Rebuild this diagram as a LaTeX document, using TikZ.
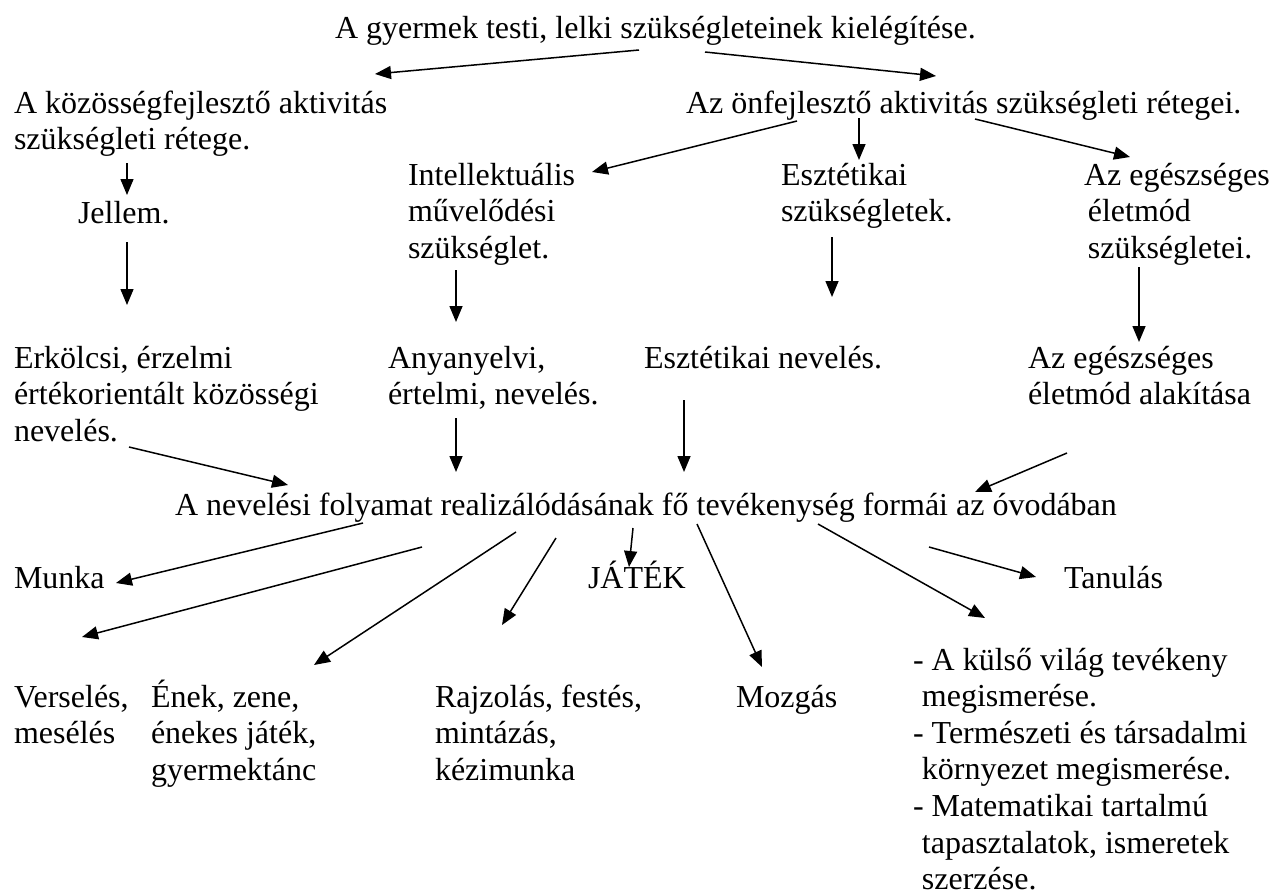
\documentclass[tikz,border=0pt]{standalone}
\usepackage{fontspec}
\setmainfont{Liberation Serif}
\usetikzlibrary{arrows.meta}
\begin{document}
\begin{tikzpicture}[x=1pt,y=-1pt,
  txt/.style={font=\fontsize{32}{36.6}\selectfont, inner sep=0pt, outer sep=0pt, align=left, anchor=base west},
  arr/.style={line width=1.5pt, -{Triangle[length=16pt,width=13pt]}}]
\useasboundingbox[fill=white] (0,0) rectangle (1281,891);
% nodes (anchor = baseline of the LAST line)
\node[txt] (title) at (335,38) {A gyermek testi, lelki szükségleteinek kielégítése.};
\node[txt] (kozos) at (14,149.6) {A közösségfejlesztő aktivitás\\szükségleti rétege.};
\node[txt] (onfejl) at (686,113) {Az önfejlesztő aktivitás szükségleti rétegei.};
\node[txt] (jellem) at (78,223) {Jellem.};
\node[txt] (intel) at (408,258.2) {Intellektuális\\művelődési\\szükséglet.};
\node[txt] (eszt) at (781,221.6) {Esztétikai\\szükségletek.};
\node[txt] (egesz) at (1084,258.2) {Az egészséges\\\hspace*{0.12em}életmód\\\hspace*{0.12em}szükségletei.};
\node[txt] (erkolcs) at (14,441.2) {Erkölcsi, érzelmi\\értékorientált közösségi\\nevelés.};
\node[txt] (anya) at (388,404.6) {Anyanyelvi,\\értelmi, nevelés.};
\node[txt] (esztnev) at (644,368) {Esztétikai nevelés.};
\node[txt] (egeszalak) at (1028,404.6) {Az egészséges\\életmód alakítása};
\node[txt] (main) at (175,515) {A nevelési folyamat realizálódásának fő tevékenység formái az óvodában};
\node[txt] (munka) at (14,588) {Munka};
\node[txt] (jatek) at (588,588) {JÁTÉK};
\node[txt] (tanulas) at (1064,588) {Tanulás};
\node[txt] (verseles) at (14,743.6) {Verselés,\\mesélés};
\node[txt] (enek) at (151,780.2) {Ének, zene,\\énekes játék,\\gyermektánc};
\node[txt] (rajz) at (435,780.2) {Rajzolás, festés,\\mintázás,\\kézimunka};
\node[txt] (mozgas) at (736,707) {Mozgás};
\node[txt] (kulso) at (913,889.6) {- A külső világ tevékeny\\\hspace*{0.28em}megismerése.\\- Természeti és társadalmi\\\hspace*{0.28em}környezet megismerése.\\- Matematikai tartalmú\\\hspace*{0.28em}tapasztalatok, ismeretek\\\hspace*{0.28em}szerzése.};
% connector ends
\coordinate (t1) at (639,50);   \coordinate (h1) at (375,74);
\coordinate (t2) at (705,52);   \coordinate (h2) at (936,76);
\coordinate (t3) at (127,163);  \coordinate (h3) at (127,195);
\coordinate (t4) at (127,242);  \coordinate (h4) at (127,305);
\coordinate (t5) at (797,121);  \coordinate (h5) at (592,172);
\coordinate (t6) at (859,118);  \coordinate (h6) at (859,160);
\coordinate (t7) at (975,119);  \coordinate (h7) at (1130,157);
\coordinate (t8) at (456,270);  \coordinate (h8) at (456,322);
\coordinate (t9) at (832,237);  \coordinate (h9) at (832,297);
\coordinate (t10) at (1139,267); \coordinate (h10) at (1139,342);
\coordinate (t11) at (129,447); \coordinate (h11) at (288,485);
\coordinate (t12) at (456,418); \coordinate (h12) at (456,472);
\coordinate (t13) at (684,400); \coordinate (h13) at (684,472);
\coordinate (t14) at (1067,453); \coordinate (h14) at (975,492);
\coordinate (t15) at (363,523); \coordinate (h15) at (116,583);
\coordinate (t16) at (422,547); \coordinate (h16) at (82,637);
\coordinate (t17) at (516,532); \coordinate (h17) at (314,665);
\coordinate (t18) at (556,538); \coordinate (h18) at (502,625);
\coordinate (t19) at (633,528); \coordinate (h19) at (629,567);
\coordinate (t20) at (697,524); \coordinate (h20) at (762,667);
\coordinate (t21) at (818,524); \coordinate (h21) at (985,618);
\coordinate (t22) at (929,547); \coordinate (h22) at (1036,577);
\foreach \i in {1,...,22} { \draw[arr] (t\i) -- (h\i); }
\end{tikzpicture}
\end{document}
